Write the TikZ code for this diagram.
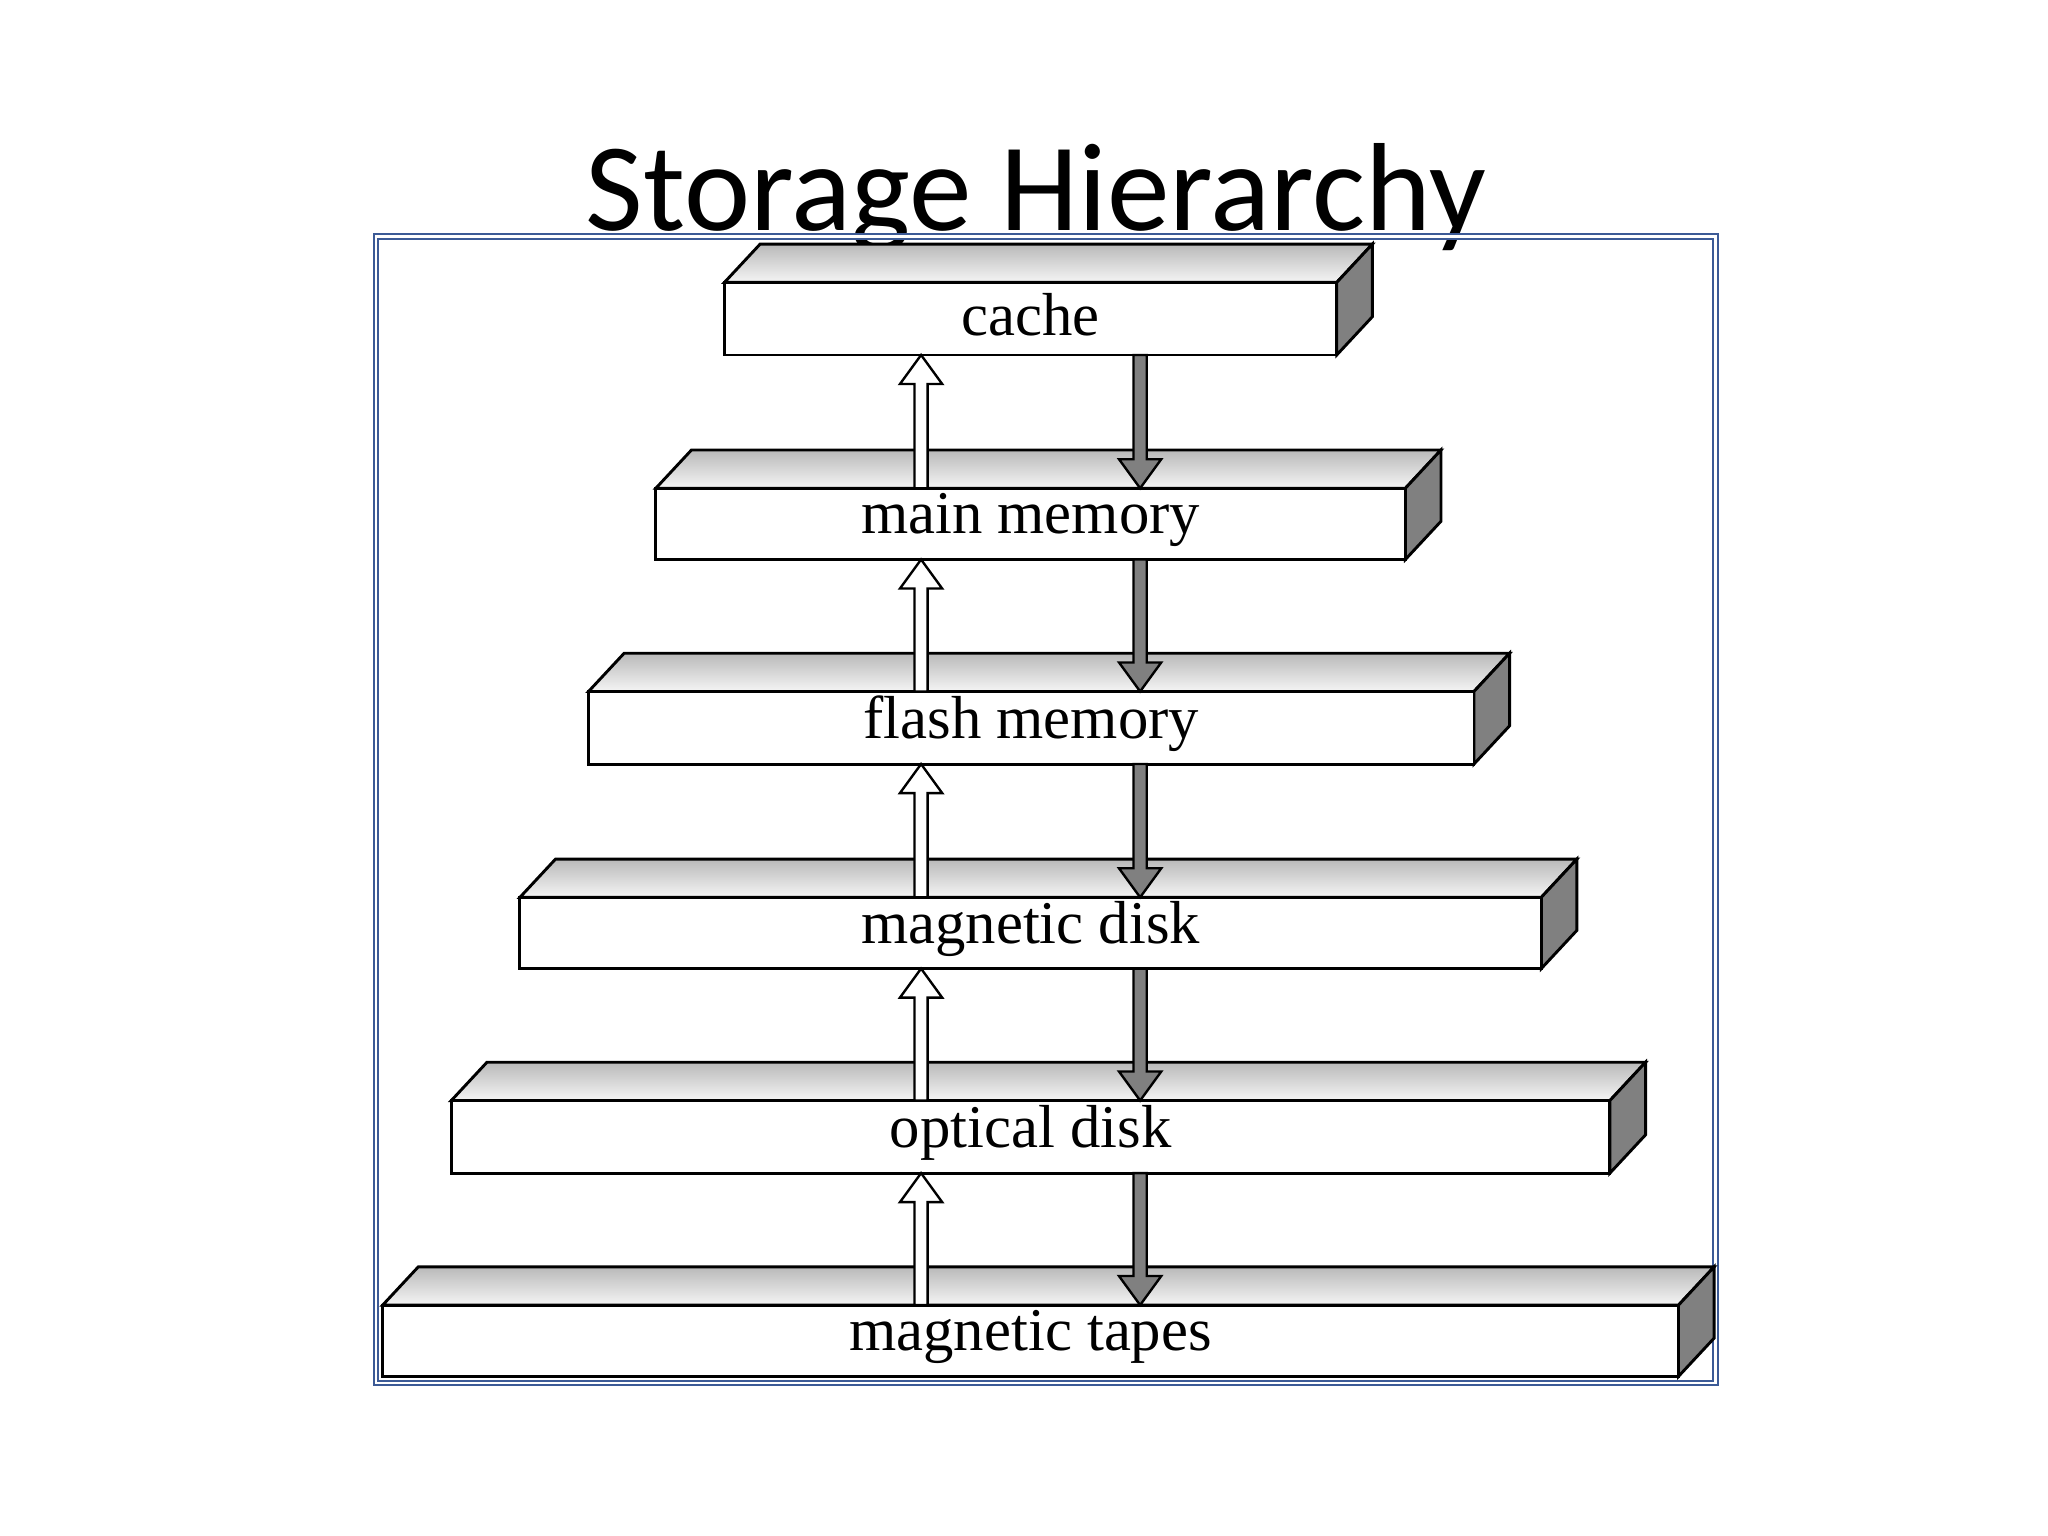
\documentclass[tikz,border=0pt]{standalone}
\usepackage{fontspec}
\setmainfont{Liberation Serif}
\newfontfamily\titlefont{Carlito}
\definecolor{framecol}{RGB}{60,90,150}
\begin{document}
\begin{tikzpicture}[x=1pt,y=-1pt,
  frontface/.style={draw=black,line width=2.2pt,fill=white},
  topface/.style={draw=black,line width=2.2pt,top color=gray!55,bottom color=gray!8},
  sideface/.style={draw=black,line width=2.2pt,fill=gray},
  uparr/.style={draw=black,line width=1.8pt,fill=white},
  downarr/.style={draw=black,line width=1.8pt,fill=gray},
  lbl/.style={font=\fontsize{46}{48}\selectfont}]
\useasboundingbox (0,0) rectangle (1552,1164);
\node[font=\titlefont\fontsize{95}{97}\selectfont,anchor=base] (title) at (785,175) {Storage Hierarchy};
\draw[draw=framecol,line width=1.5pt,double=white,double distance=2pt] (285,179) rectangle (1300,1048);
\def\dx{27}\def\dy{29}
\foreach \l/\r/\t/\b/\txt/\nm in {549/1013/214/269/cache/c, 497/1065/370/424/main memory/m, 446/1117/524/579/flash memory/f, 394/1168/680/734/magnetic disk/d, 342/1220/834/889/optical disk/o, 290/1272/989/1043/magnetic tapes/t}{
  \begin{scope}
  \ifx\nm t\clip (285,179) rectangle (1297,1048);\fi
  \draw[topface] (\l,\t) -- (\l+\dx,\t-\dy) -- (\r+\dx,\t-\dy) -- (\r,\t) -- cycle;
  \draw[sideface] (\r,\t) -- (\r+\dx,\t-\dy) -- (\r+\dx,\b-\dy) -- (\r,\b) -- cycle;
  \end{scope}
  \draw[frontface] (\l,\t) rectangle (\r,\b);
  \node[lbl] (\nm) at ({(\l+\r)/2},{(\t+\b)/2-3}) {\txt};
}
\foreach \a/\b in {269/370, 424/524, 579/680, 734/834, 889/989}{
  \draw[uparr] (693,\b) -- (693,\a+22) -- (682,\a+22) -- (698,\a) -- (714,\a+22) -- (703,\a+22) -- (703,\b) -- cycle;
  \draw[downarr] (859,\a) -- (859,\b-22) -- (848,\b-22) -- (864,\b) -- (880,\b-22) -- (869,\b-22) -- (869,\a) -- cycle;
}
\end{tikzpicture}
\end{document}
